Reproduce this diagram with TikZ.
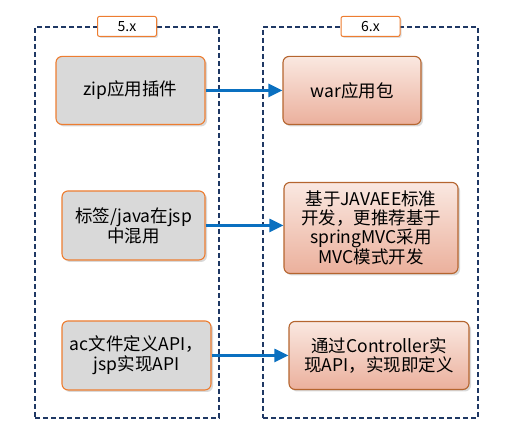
\documentclass[tikz,border=0pt]{standalone}
\usepackage{fontspec}
\setmainfont{Noto Sans CJK SC}
\usepackage{tikz}
\usetikzlibrary{calc}
\usetikzlibrary{arrows.meta}
\usetikzlibrary{shadows}
\definecolor{framenavy}{HTML}{1F3864}
\definecolor{boxorange}{HTML}{ED7D31}
\definecolor{boxbrown}{HTML}{B5652F}
\definecolor{newtop}{HTML}{FAE8E1}
\definecolor{newbot}{HTML}{EBB09C}
\definecolor{oldgray}{HTML}{D9D9D9}
\definecolor{arrowblue}{HTML}{0A70C0}
\tikzstyle{verframe} = [draw=framenavy, line width=1.1pt, dash pattern=on 5pt off 3pt, minimum width=184pt, minimum height=391pt, inner sep=0]
\tikzstyle{vertag} = [draw=boxorange, fill=white, line width=1pt, rounded corners=2pt, minimum width=59pt, minimum height=20pt, inner sep=0, font=\fontsize{14}{16}\selectfont, drop shadow={shadow xshift=1.5pt, shadow yshift=-1.5pt, opacity=0.25}]
\tikzstyle{oldbox} = [draw=boxorange, fill=oldgray, line width=1.1pt, rounded corners=6pt, align=center, inner sep=0, font=\fontsize{17.5}{20}\selectfont, drop shadow={shadow xshift=2pt, shadow yshift=-2pt, opacity=0.3}]
\tikzstyle{newbox} = [draw=boxbrown, top color=newtop, bottom color=newbot, line width=1.1pt, rounded corners=6pt, align=center, inner sep=0, font=\fontsize{17.5}{19}\selectfont, drop shadow={shadow xshift=2pt, shadow yshift=-2pt, opacity=0.3}]
\tikzstyle{migrate} = [draw=arrowblue, line width=2.4pt, -{Triangle[length=14pt, width=13pt]}]

\begin{document}
\begin{tikzpicture}[x=1pt, y=-1pt]
    \useasboundingbox (0,0) rectangle (526,441);

    \node[verframe] (frame_five) at (127,222.5) {};
    \node[verframe, minimum width=215pt] (frame_six) at (370.5,222.5) {};
    \node[vertag] (tag_five) at (frame_five.north) {5.x};
    \node[vertag] (tag_six) at (frame_six.north) {6.x};

    \node[oldbox, minimum width=149pt, minimum height=68pt] (old_zip) at ($(frame_five.north)+(3.5,64)$) {zip应用插件};
    \node[oldbox, minimum width=143pt, minimum height=69pt] (old_tag) at ($(frame_five.north)+(6.5,199)$) {标签/java在jsp\\中混用};
    \node[oldbox, minimum width=149pt, minimum height=69pt] (old_ac) at ($(frame_five.north)+(9.5,329)$) {ac文件定义API，\\jsp实现API};

    \node[newbox, minimum width=138pt, minimum height=68pt] (new_war) at ($(frame_six.north)+(-18.5,64)$) {war应用包};
    \node[newbox, minimum width=174pt, minimum height=91pt] (new_javaee) at ($(frame_six.north)+(0.5,201.5)$) {基于JAVAEE标准\\开发，更推荐基于\\springMVC采用\\MVC模式开发};
    \node[newbox, minimum width=180pt, minimum height=68pt] (new_ctrl) at ($(frame_six.north)+(8.5,329)$) {通过Controller实\\现API，实现即定义};

    \draw[migrate] (old_zip.east) -- (old_zip.east -| new_war.west);
    \draw[migrate] (old_tag.east) -- (old_tag.east -| new_javaee.west);
    \draw[migrate] (old_ac.east) -- (old_ac.east -| new_ctrl.west);
\end{tikzpicture}
\end{document}
